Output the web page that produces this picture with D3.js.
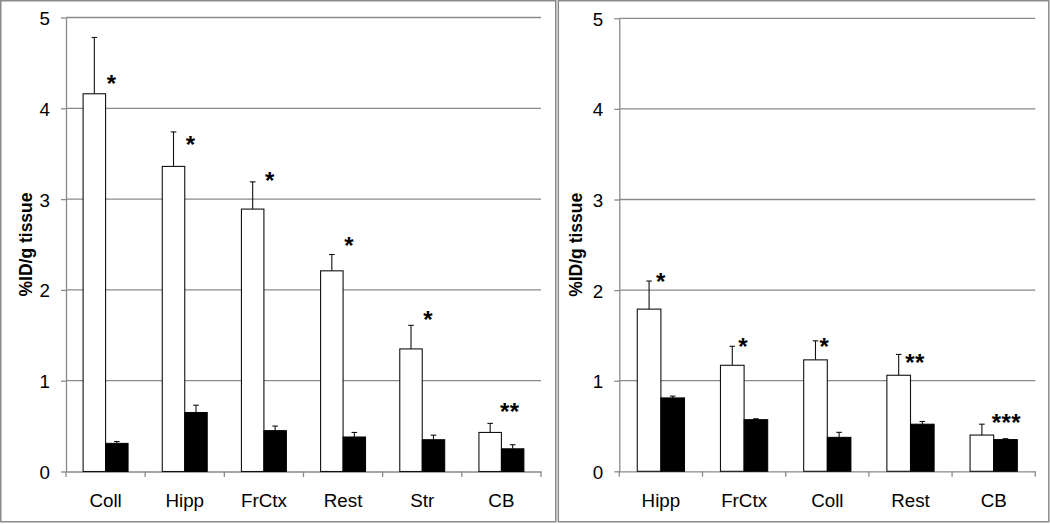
<!DOCTYPE html>
<html><head><meta charset="utf-8">
<script src="https://cdn.jsdelivr.net/npm/d3@7"></script>
<style>
html,body{margin:0;padding:0;background:#fff;}
svg{display:block;}
text{font-family:"Liberation Sans",Arial,sans-serif;}
</style></head>
<body>
<svg id="chart" width="1050" height="524"></svg>
<script>
// ---- data: left panel ----
const leftCategories = ["Coll","Hipp","FrCtx","Rest","Str","CB"];
const leftWhite      = [4.16, 3.36, 2.89, 2.21, 1.35, 0.43];
const leftWhiteErr   = [0.62, 0.38, 0.30, 0.18, 0.26, 0.10];
const leftBlack      = [0.31, 0.65, 0.45, 0.38, 0.35, 0.25];
const leftBlackErr   = [0.02, 0.08, 0.05, 0.05, 0.05, 0.045];
const leftSig        = ["*","*","*","*","*","**"];
const leftSigY       = [4.33, 3.66, 3.27, 2.55, 1.73, 0.72];
const leftSigDx      = [6, 6, 6, 6, 6, 8.4];
// ---- data: right panel ----
const rightCategories = ["Hipp","FrCtx","Coll","Rest","CB"];
const rightWhite      = [1.79, 1.17, 1.23, 1.06, 0.40];
const rightWhiteErr   = [0.31, 0.21, 0.21, 0.23, 0.12];
const rightBlack      = [0.81, 0.57, 0.375, 0.52, 0.35];
const rightBlackErr   = [0.02, 0.01, 0.055, 0.03, 0.01];
const rightSig        = ["*","*","*","**","***"];
const rightSigY       = [2.16, 1.44, 1.44, 1.26, 0.60];
const rightSigDx      = [0, -1, -2.8, 4.6, 12.7];
const yTicks = [0,1,2,3,4,5];
const yTitle = "%ID/g tissue";

const svg = d3.select("#chart");
const GRID = "#8a8a8a";

function panel(cfg){
  const g = svg.append("g");
  // frame
  g.append("rect").attr("x",cfg.fx).attr("y",cfg.fy).attr("width",cfg.fw).attr("height",cfg.fh)
    .attr("fill","none").attr("stroke","#8a8a8a").attr("stroke-width",1.5);
  const x = d3.scaleBand().domain(cfg.cats).range([cfg.x0,cfg.x1]).padding(0);
  const y = d3.scaleLinear().domain([0,5]).range([cfg.y0,cfg.y5]);
  const step = x.step();
  const bw = step*0.284;
  // gridlines
  g.append("g").selectAll("line").data(yTicks.filter(d=>d>0)).join("line")
    .attr("x1",cfg.x0).attr("x2",cfg.x1).attr("y1",d=>y(d)).attr("y2",d=>y(d))
    .attr("stroke",GRID).attr("stroke-width",1.3);
  // y axis
  const ya = g.append("g").attr("transform",`translate(${cfg.x0},0)`)
    .call(d3.axisLeft(y).tickValues(yTicks).tickSize(5).tickSizeOuter(0).tickPadding(11).tickFormat(d3.format("d")));
  ya.select(".domain").attr("stroke",GRID).attr("stroke-width",1.3);
  ya.selectAll(".tick line").attr("stroke",GRID).attr("stroke-width",1.3);
  ya.selectAll(".tick text").attr("font-size","18.8px").attr("fill","#000").attr("dy","0.37em")
    .attr("font-family","Liberation Sans, Arial, sans-serif");
  // x axis
  const xa = g.append("g").attr("transform",`translate(0,${cfg.y0})`)
    .call(d3.axisBottom(x).tickSize(0).tickPadding(22));
  xa.select(".domain").attr("stroke",GRID).attr("stroke-width",1.3);
  xa.selectAll(".tick text").attr("font-size","18.8px").attr("fill","#000")
    .attr("font-family","Liberation Sans, Arial, sans-serif");
  const bounds = cfg.cats.map(c=>x(c)).concat([cfg.x1]);
  g.append("g").selectAll("line").data(bounds).join("line")
    .attr("x1",d=>d).attr("x2",d=>d).attr("y1",cfg.y0).attr("y2",cfg.y0+5.5)
    .attr("stroke",GRID).attr("stroke-width",1.3);
  // bars
  const rows = cfg.cats.map((c,i)=>({c,i,w:cfg.white[i],we:cfg.whiteErr[i],b:cfg.black[i],be:cfg.blackErr[i]}));
  const bars = g.append("g");
  rows.forEach(r=>{
    const cx = x(r.c)+step/2;
    [[cx-bw/2, r.w, r.we],[cx+bw/2, r.b, r.be]].forEach(([ex,v,e])=>{
      bars.append("line").attr("x1",ex).attr("x2",ex).attr("y1",y(v)).attr("y2",y(v+e))
        .attr("stroke","#111").attr("stroke-width",1.1);
      bars.append("line").attr("x1",ex-2.8).attr("x2",ex+2.8).attr("y1",y(v+e)).attr("y2",y(v+e))
        .attr("stroke","#111").attr("stroke-width",1.1);
    });
    bars.append("rect").attr("x",cx-bw).attr("y",y(r.w)).attr("width",bw).attr("height",cfg.y0-y(r.w))
      .attr("fill","#fff").attr("stroke","#111").attr("stroke-width",1.1);
    bars.append("rect").attr("x",cx).attr("y",y(r.b)).attr("width",bw).attr("height",cfg.y0-y(r.b))
      .attr("fill","#000").attr("stroke","#000").attr("stroke-width",1);
  });
  // significance marks
  g.append("g").selectAll("text").data(cfg.cats).join("text")
    .attr("x",(c,i)=>x(c)+step/2+cfg.sigDx[i]).attr("y",(c,i)=>y(cfg.sigY[i])+14)
    .attr("text-anchor","middle").attr("font-weight","bold").attr("font-size","24px")
    .attr("letter-spacing","0.5px")
    .text((c,i)=>cfg.sig[i]);
  // y title
  g.append("text").attr("transform",`translate(${cfg.tx},${(cfg.y0+cfg.y5)/2}) rotate(-90)`)
    .attr("text-anchor","middle").attr("font-weight","bold").attr("font-size","17.5px")
    .text(yTitle);
}

panel({fx:0.75,fy:0.75,fw:555,fh:521,x0:66,x1:541,y0:471.5,y5:17.5,tx:31.5,
  cats:leftCategories,white:leftWhite,whiteErr:leftWhiteErr,black:leftBlack,blackErr:leftBlackErr,
  sig:leftSig,sigY:leftSigY,sigDx:leftSigDx});
panel({fx:558.3,fy:0.75,fw:490.5,fh:521,x0:619.3,x1:1035.3,y0:471.3,y5:18.3,tx:582,
  cats:rightCategories,white:rightWhite,whiteErr:rightWhiteErr,black:rightBlack,blackErr:rightBlackErr,
  sig:rightSig,sigY:rightSigY,sigDx:rightSigDx});
</script>
</body></html>
